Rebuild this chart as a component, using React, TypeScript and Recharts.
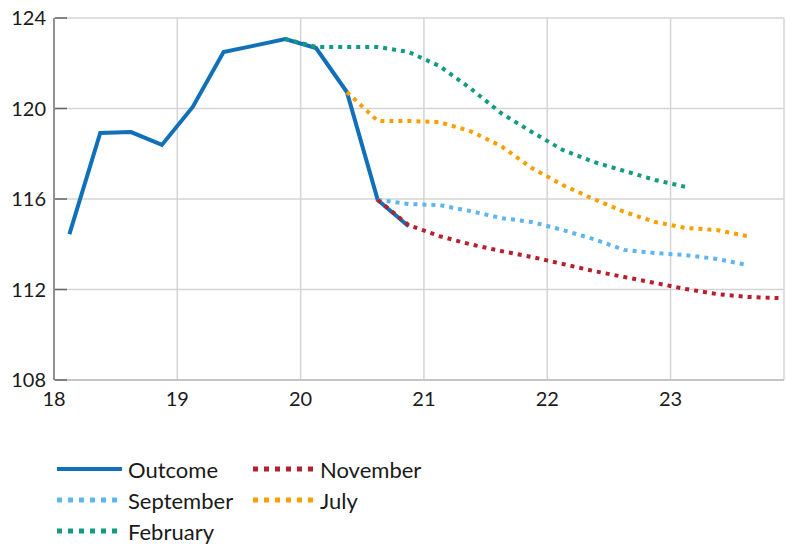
import React from "react";
import { LineChart, Line, XAxis, YAxis, CartesianGrid } from "recharts";

const quarters = [
  18.125, 18.375, 18.625, 18.875, 19.125, 19.375, 19.625, 19.875,
  20.125, 20.375, 20.625, 20.875, 21.125, 21.375, 21.625, 21.875,
  22.125, 22.375, 22.625, 22.875, 23.125, 23.375, 23.625, 23.875,
];

const outcome = [114.45, 118.92, 118.96, 118.39, 120.07, 122.5, 122.78, 123.07, 122.67, 120.73, 115.96, 114.8];
const outcomeStart = 0;
const february = [123.07, 122.72, 122.72, 122.72, 122.5, 121.88, 120.9, 119.8, 118.96, 118.17, 117.64, 117.24, 116.84, 116.53];
const februaryStart = 7;
const july = [120.73, 119.45, 119.45, 119.4, 119.0, 118.34, 117.37, 116.62, 116.0, 115.43, 114.98, 114.72, 114.63, 114.36];
const julyStart = 9;
const september = [115.96, 115.78, 115.73, 115.47, 115.16, 114.98, 114.63, 114.23, 113.75, 113.61, 113.52, 113.35, 113.08];
const septemberStart = 10;
const november = [115.96, 114.85, 114.36, 114.0, 113.7, 113.44, 113.13, 112.82, 112.55, 112.29, 112.02, 111.8, 111.67, 111.62];
const novemberStart = 10;

const xTicks = [18, 19, 20, 21, 22, 23];
const yTicks = [108, 112, 116, 120, 124];

const build = (vals: number[], start: number) =>
  vals.map((v, i) => ({ x: quarters[start + i], v }));

const COLORS = {
  outcome: "#1170b8",
  november: "#b71f2e",
  september: "#5eb5ef",
  july: "#f8a000",
  february: "#139a84",
};

const FONT = "Lato, 'Open Sans', sans-serif";

const YTick = (props: any) => {
  const { x, y, payload } = props;
  return (
    <g>
      <text x={x} y={y} dy={7} textAnchor="end" fontSize={20} fill="#1a1a1a" fontFamily={FONT}>
        {payload.value}
      </text>
      <line x1={x + 9} x2={x + 21} y1={y} y2={y} stroke="#666" strokeWidth={1.5} />
    </g>
  );
};

const legendItems = [
  { name: "Outcome", color: COLORS.outcome, solid: true, col: 0, row: 0 },
  { name: "November", color: COLORS.november, solid: false, col: 1, row: 0 },
  { name: "September", color: COLORS.september, solid: false, col: 0, row: 1 },
  { name: "July", color: COLORS.july, solid: false, col: 1, row: 1 },
  { name: "February", color: COLORS.february, solid: false, col: 0, row: 2 },
];

export default function App() {
  return (
    <div style={{ position: "absolute", left: 0, top: 0, width: 786, height: 548, background: "#fff", fontFamily: FONT }}>
      <LineChart
        width={786}
        height={548}
        margin={{ top: 18, right: 2, left: 0, bottom: 138 }}
      >
        <CartesianGrid stroke="#d4d4d4" strokeWidth={1.5} />
        <XAxis
          type="number"
          dataKey="x"
          domain={[18, 23.92]}
          ticks={xTicks}
          allowDataOverflow
          height={30}
          axisLine={{ stroke: "#bdbdbd", strokeWidth: 1.5 }}
          tickLine={false}
          tickMargin={6}
          tick={{ fontSize: 20, fill: "#1a1a1a", fontFamily: FONT }}
        />
        <YAxis
          type="number"
          domain={[108, 124]}
          ticks={yTicks}
          width={54}
          axisLine={{ stroke: "#777", strokeWidth: 1.5 }}
          tickLine={false}
          tickSize={0}
          tickMargin={8}
          tick={<YTick />}
        />
        <YAxis
          yAxisId="r"
          orientation="right"
          mirror
          type="number"
          domain={[108, 124]}
          ticks={yTicks}
          width={0}
          axisLine={false}
          tickSize={4}
          tickLine={{ stroke: "#555", strokeWidth: 2 }}
          tickFormatter={() => ""}
        />
        <Line data={build(outcome, outcomeStart)} dataKey="v" type="linear" stroke={COLORS.outcome} strokeWidth={4} dot={false} isAnimationActive={false} />
        <Line data={build(february, februaryStart)} dataKey="v" type="linear" stroke={COLORS.february} strokeWidth={4} strokeDasharray="4 5" dot={false} isAnimationActive={false} />
        <Line data={build(july, julyStart)} dataKey="v" type="linear" stroke={COLORS.july} strokeWidth={4} strokeDasharray="4 5" dot={false} isAnimationActive={false} />
        <Line data={build(september, septemberStart)} dataKey="v" type="linear" stroke={COLORS.september} strokeWidth={4} strokeDasharray="4 5" dot={false} isAnimationActive={false} />
        <Line data={build(november, novemberStart)} dataKey="v" type="linear" stroke={COLORS.november} strokeWidth={4} strokeDasharray="4 5" dot={false} isAnimationActive={false} />
      </LineChart>
      {legendItems.map((it) => (
        <div
          key={it.name}
          style={{
            position: "absolute",
            left: it.col === 0 ? 57 : 253,
            top: 454 + it.row * 31,
            height: 30,
            display: "flex",
            alignItems: "center",
            fontSize: 22,
            color: "#1a1a1a",
            whiteSpace: "nowrap",
          }}
        >
          <svg width={it.col === 0 ? 66 : 62} height={10} style={{ marginRight: it.col === 0 ? 5 : 5 }}>
            <line
              x1={0}
              x2={it.solid ? 65 : 60}
              y1={5}
              y2={5}
              stroke={it.color}
              strokeWidth={it.solid ? 4 : 5}
              strokeDasharray={it.solid ? undefined : "5 6"}
            />
          </svg>
          <span>{it.name}</span>
        </div>
      ))}
    </div>
  );
}
